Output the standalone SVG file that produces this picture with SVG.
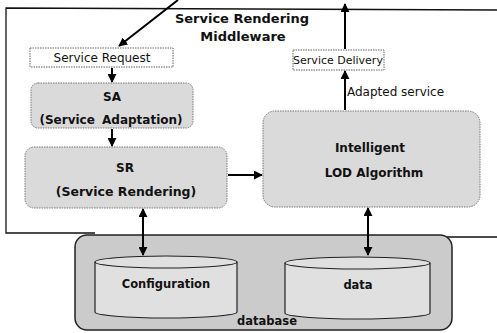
<svg xmlns="http://www.w3.org/2000/svg" width="497" height="333" viewBox="0 0 497 333">
<style>
text{font-family:"DejaVu Sans","Liberation Sans",sans-serif;fill:#111;}
.b{font-weight:bold;}
.plain{fill:#fff;stroke:#666;stroke-width:1;stroke-dasharray:1.5,1;}
.proc{fill:#dadada;stroke:#777;stroke-width:1;stroke-dasharray:1.5,1;}
.db{fill:#cbcbcb;stroke:#222;stroke-width:1.5;}
.cyl{fill:#e0e0e0;stroke:#222;stroke-width:1.2;}
.frame{fill:none;stroke:#111;stroke-width:1.3;}
.c{fill:none;stroke:#000;stroke-width:2;}
</style>
<defs>
<marker id="ah" viewBox="0 0 10 10" refX="9" refY="5" markerWidth="4.5" markerHeight="4.5" orient="auto-start-reverse" markerUnits="strokeWidth">
<path d="M0,0 L10,5 L0,10 z" fill="#000"/>
</marker>
</defs>
<g id="frame">
<path class="frame" d="M95,233 L6,233 L6,8 L497,10"/>
<path class="frame" d="M420,237 L497,237"/>
<text class="b" x="242" y="23" font-size="13" text-anchor="middle">Service Rendering</text>
<text class="b" x="243" y="41" font-size="13" text-anchor="middle">Middleware</text>
</g>
<g id="service-request">
<rect class="plain" x="30" y="48" width="143" height="19"/>
<text x="102" y="62" font-size="12" text-anchor="middle">Service Request</text>
</g>
<g id="sa">
<rect class="proc" x="31" y="83" width="162" height="45" rx="7"/>
<text class="b" x="112" y="101" font-size="12" text-anchor="middle">SA</text>
<text class="b" x="111" y="124" font-size="12" text-anchor="middle" word-spacing="3">(Service Adaptation)</text>
</g>
<g id="sr">
<rect class="proc" x="25" y="147" width="202" height="61" rx="9"/>
<text class="b" x="125" y="172" font-size="12" text-anchor="middle">SR</text>
<text class="b" x="126" y="196" font-size="12.5" text-anchor="middle">(Service Rendering)</text>
</g>
<g id="intelligent">
<rect class="proc" x="263" y="111" width="217" height="96" rx="12"/>
<text class="b" x="370" y="152" font-size="12" text-anchor="middle">Intelligent</text>
<text class="b" x="374" y="177" font-size="12" text-anchor="middle">LOD Algorithm</text>
</g>
<g id="service-delivery">
<rect class="plain" x="293" y="50" width="91" height="20"/>
<text x="338" y="64" font-size="11" text-anchor="middle">Service Delivery</text>
</g>
<g id="database">
<rect class="db" x="75" y="235" width="377" height="95" rx="12"/>
<text class="b" x="267" y="325" font-size="11.5" text-anchor="middle">database</text>
</g>
<g id="configuration">
<path class="cyl" d="M95,262 L95,312 A71,6 0 0 0 237,312 L237,262"/>
<ellipse class="cyl" cx="166" cy="262" rx="71" ry="6"/>
<text class="b" x="166" y="288" font-size="11.5" text-anchor="middle">Configuration</text>
</g>
<g id="data">
<path class="cyl" d="M285,263 L285,313 A72.5,6 0 0 0 430,313 L430,263"/>
<ellipse class="cyl" cx="357.5" cy="263" rx="72.5" ry="6"/>
<text class="b" x="358" y="289" font-size="11.5" text-anchor="middle">data</text>
</g>
<g id="connectors">
<line class="c" x1="178" y1="0" x2="119" y2="46" marker-end="url(#ah)" stroke-width="1.6"/>
<line class="c" x1="112" y1="68" x2="112" y2="82" marker-end="url(#ah)"/>
<line class="c" x1="112" y1="129" x2="112" y2="146" marker-end="url(#ah)"/>
<line class="c" x1="228" y1="175" x2="262" y2="175" marker-end="url(#ah)"/>
<line class="c" x1="345" y1="110" x2="345" y2="71" marker-end="url(#ah)"/>
<line class="c" x1="345" y1="49" x2="345" y2="4" marker-end="url(#ah)"/>
<line class="c" x1="143" y1="209" x2="143" y2="255" marker-start="url(#ah)" marker-end="url(#ah)"/>
<line class="c" x1="368" y1="208" x2="368" y2="255" marker-start="url(#ah)" marker-end="url(#ah)"/>
<text x="347" y="96" font-size="12">Adapted service</text>
</g>
</svg>
